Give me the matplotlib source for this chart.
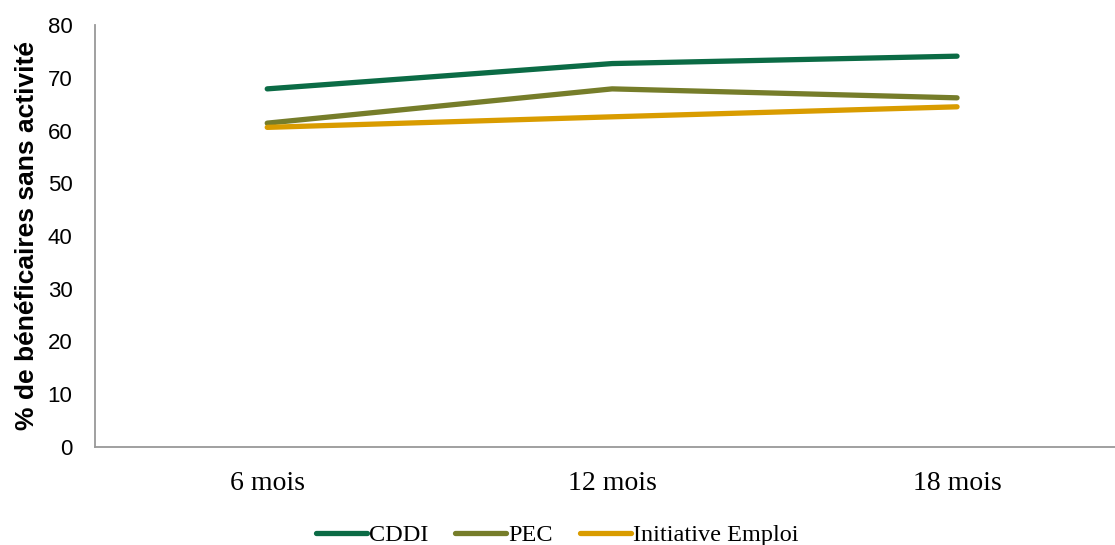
import matplotlib
matplotlib.use('Agg')
import matplotlib.pyplot as plt

# data
periods = ['6 mois', '12 mois', '18 mois']
cddi = [67.9, 72.7, 74.1]
pec = [61.4, 67.9, 66.2]
initiative = [60.6, 62.6, 64.5]

series = [('CDDI', cddi, '#0B6B45'),
          ('PEC', pec, '#767D2A'),
          ('Initiative Emploi', initiative, '#D99C00')]

fig = plt.figure(figsize=(11.15, 5.45), dpi=100)
ax = fig.add_axes([0.085, 0.180, 0.928, 0.774])

x = range(len(periods))
for name, vals, col in series:
	ax.plot(x, vals, color=col, lw=3.8, solid_capstyle='round', label=name)

ax.set_xlim(-0.5, len(periods) - 0.5)
ax.set_ylim(0, 80)
ax.set_yticks(range(0, 81, 10))
ax.set_xticks(list(x))
ax.set_xticklabels(periods, family='Liberation Serif', fontsize=20)
for lab in ax.get_yticklabels():
	lab.set_family('Liberation Sans')
	lab.set_fontsize(16)
ax.tick_params(axis='both', length=0)
ax.tick_params(axis='x', pad=17)
ax.tick_params(axis='y', pad=16)

for s in ['top', 'right']:
	ax.spines[s].set_visible(False)
for s in ['left', 'bottom']:
	ax.spines[s].set_color('#999999')
	ax.spines[s].set_linewidth(1.3)

ax.set_ylabel('% de bénéficaires sans activité', family='Liberation Sans',
	fontsize=19, fontweight='bold', labelpad=6)

leg = ax.legend(loc='center', bbox_to_anchor=(0.447, -0.210), ncol=3, frameon=False,
	prop={'family': 'Liberation Serif', 'size': 17.5}, handlelength=2.1,
	handletextpad=0.1, columnspacing=1.1, borderpad=0.1)

fig.savefig('out.png', dpi=100)
